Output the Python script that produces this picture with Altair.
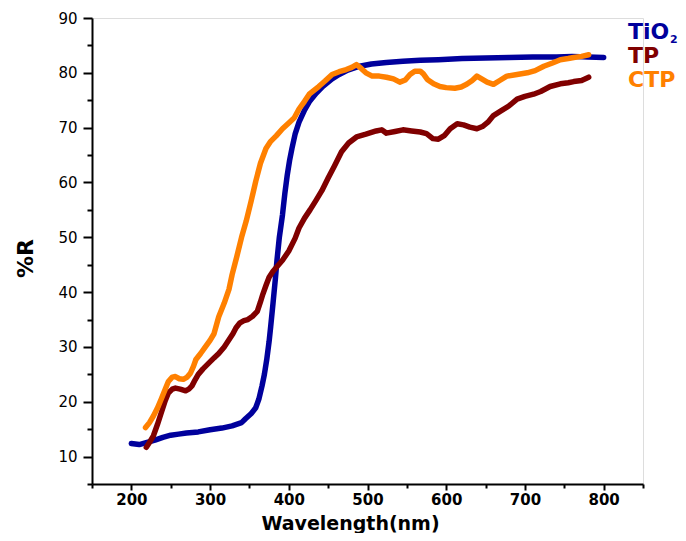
import altair as alt
import pandas as pd

# ---- data ----
tio2_wl = [200, 210, 220, 230, 240, 250, 260, 270, 285, 300, 315, 328, 340, 345, 352, 358, 362, 366, 369, 372,
           375, 377, 380, 383, 385, 388, 392, 395, 398, 401, 404, 408, 413, 420, 426, 435, 443, 455, 464, 475,
           490, 505, 524, 545, 567, 590, 620, 650, 680, 710, 740, 760, 780, 800]
tio2_r = [12.4, 12.2, 12.6, 13.0, 13.5, 13.9, 14.1, 14.3, 14.5, 14.9, 15.2, 15.6, 16.2, 16.9, 17.8, 18.9, 20.5, 22.9,
          25.0, 27.7, 31.0, 33.7, 38.0, 42.5, 45.8, 50.0, 54.1, 58.0, 61.3, 64.0, 66.2, 68.8, 71.0, 73.2, 74.7, 76.3,
          77.5, 78.9, 79.7, 80.5, 81.2, 81.6, 81.9, 82.1, 82.3, 82.4, 82.6, 82.7, 82.8, 82.9, 82.9, 83.0, 82.9, 82.8]

tp_wl = [219, 224, 228, 233, 238, 243, 247, 252, 256, 262, 269, 273, 277, 281, 285, 291, 298, 305, 311, 318, 324,
         329, 333, 338, 343, 348, 354, 360, 364, 367, 371, 375, 380, 386, 392, 400, 408, 413, 420, 427, 434, 442,
         450, 458, 467, 476, 486, 498, 511, 518, 524, 535, 545, 556, 567, 575, 583, 590, 598, 605, 614, 622, 630,
         639, 646, 653, 660, 669, 680, 690, 700, 711, 720, 732, 745, 755, 762, 772, 781]
tp_r = [11.7, 12.8, 13.8, 15.8, 18.0, 20.2, 21.6, 22.3, 22.5, 22.3, 22.0, 22.3, 22.9, 24.0, 25.0, 26.0, 27.0, 28.0,
        28.8, 30.0, 31.3, 32.4, 33.5, 34.4, 34.8, 35.0, 35.6, 36.5, 38.2, 39.6, 41.2, 42.7, 43.8, 44.8, 45.8, 47.5,
        49.8, 51.7, 53.5, 55.0, 56.6, 58.5, 60.8, 63.0, 65.6, 67.2, 68.3, 68.8, 69.4, 69.6, 69.0, 69.3, 69.6, 69.4,
        69.2, 68.9, 68.0, 67.9, 68.6, 69.8, 70.7, 70.5, 70.1, 69.8, 70.2, 71.0, 72.2, 73.0, 74.0, 75.2, 75.7, 76.1,
        76.6, 77.5, 78.0, 78.2, 78.4, 78.6, 79.2]

ctp_wl = [218, 223, 228, 233, 238, 243, 247, 252, 256, 261, 266, 271, 275, 279, 282, 288, 294, 300, 305, 311, 318,
          324, 328, 334, 340, 346, 352, 358, 364, 371, 377, 384, 392, 401, 407, 413, 420, 426, 432, 438, 446, 455,
          464, 473, 480, 486, 492, 498, 506, 515, 524, 533, 541, 548, 554, 560, 567, 571, 576, 584, 592, 600, 611,
          619, 626, 633, 639, 645, 652, 660, 668, 677, 690, 703, 713, 724, 735, 745, 755, 762, 772, 781]
ctp_r = [15.3, 16.2, 17.4, 18.8, 20.5, 22.3, 23.7, 24.5, 24.6, 24.2, 24.1, 24.5, 25.2, 26.5, 27.7, 28.8, 30.0, 31.2,
         32.4, 35.5, 38.0, 40.5, 43.2, 46.5, 50.0, 53.0, 56.5, 60.2, 63.5, 66.2, 67.5, 68.5, 69.8, 71.0, 71.8, 73.4,
         74.8, 76.1, 76.8, 77.5, 78.5, 79.7, 80.2, 80.6, 81.0, 81.5, 80.8, 80.0, 79.4, 79.4, 79.2, 78.9, 78.3, 78.7,
         79.7, 80.3, 80.3, 79.8, 78.8, 78.0, 77.5, 77.3, 77.2, 77.4, 77.9, 78.6, 79.4, 78.9, 78.3, 77.9, 78.6, 79.4,
         79.7, 80.0, 80.4, 81.2, 81.8, 82.4, 82.6, 82.8, 83.0, 83.3]

series_names = ["TiO2", "TP", "CTP"]
series_colors = ["#00009C", "#800000", "#FF8000"]
x_ticks = list(range(150, 851, 50))
y_ticks = list(range(5, 91, 5))

frames = []
for name, wl, r in [("TiO2", tio2_wl, tio2_r), ("TP", tp_wl, tp_r), ("CTP", ctp_wl, ctp_r)]:
    frames.append(pd.DataFrame({"wl": wl, "r": r, "series": name, "order": range(len(wl))}))
df = pd.concat(frames, ignore_index=True)

W, H = 551, 466

x_scale = alt.Scale(domain=[150, 850], nice=False, zero=False)
y_scale = alt.Scale(domain=[5, 90], nice=False, zero=False)

x_axis = alt.Axis(
    values=x_ticks, grid=False, domainColor="black", domainWidth=2,
    tickColor="black", tickWidth=2,
    tickSize={"condition": {"test": "datum.value % 100 == 0", "value": 6}, "value": 4},
    labelExpr="datum.value % 100 == 0 ? datum.label : ''",
    labelFont="DejaVu Sans", labelFontWeight="bold", labelFontSize=15, labelColor="black",
    labelPadding=2, labelFlush=False,
    title="Wavelength(nm)", titleFont="DejaVu Sans", titleFontWeight="bold", titleFontSize=19,
    titleColor="black", titleX=258, titleY=45, titleAlign="center", titleBaseline="alphabetic",
)
y_axis = alt.Axis(
    values=y_ticks, grid=False, domainColor="black", domainWidth=2,
    tickColor="black", tickWidth=2,
    tickSize={"condition": {"test": "datum.value % 10 == 0", "value": 9}, "value": 5},
    labelExpr="datum.value % 10 == 0 ? datum.label : ''",
    labelFont="DejaVu Sans", labelFontSize=15, labelColor="black",
    labelPadding=6, labelFlush=False,
    title="%R", titleFont="DejaVu Sans", titleFontWeight="bold", titleFontSize=22,
    titleColor="black", titleAngle=270, titleX=-67, titleY=240, titleAlign="center",
    titleBaseline="middle",
)

lines = alt.Chart(df).mark_line(strokeWidth=5.5, strokeCap="round", strokeJoin="round").encode(
    x=alt.X("wl:Q", scale=x_scale, axis=x_axis),
    y=alt.Y("r:Q", scale=y_scale, axis=y_axis),
    color=alt.Color("series:N", scale=alt.Scale(domain=series_names, range=series_colors), legend=None),
    detail="series:N",
    order="order:Q",
)

leg_df = pd.DataFrame({
    "label": ["TiO", "TP", "CTP"],
    "series": series_names,
    "ypx": [21, 45, 69],
})
legend_text = alt.Chart(leg_df).mark_text(
    align="left", baseline="alphabetic", font="DejaVu Sans", fontWeight="bold", fontSize=22
).encode(
    x=alt.value(536),
    y=alt.Y("ypx:Q", scale=None),
    text="label:N",
    color=alt.Color("series:N", scale=alt.Scale(domain=series_names, range=series_colors), legend=None),
)
sub_df = pd.DataFrame({"label": ["2"], "series": ["TiO2"], "ypx": [25]})
legend_sub = alt.Chart(sub_df).mark_text(
    align="left", baseline="alphabetic", font="DejaVu Sans", fontWeight="bold", fontSize=11
).encode(
    x=alt.value(578),
    y=alt.Y("ypx:Q", scale=None),
    text="label:N",
    color=alt.Color("series:N", scale=alt.Scale(domain=series_names, range=series_colors), legend=None),
)

chart = alt.layer(lines, legend_text, legend_sub).properties(
    width=W, height=H,
    autosize=alt.AutoSizeParams(type="none"),
    padding={"left": 84, "top": 10, "right": 35, "bottom": 49},
).configure_view(stroke=None).configure(background="white")

chart.save("out.html", embed_options={"renderer": "svg", "actions": False})
